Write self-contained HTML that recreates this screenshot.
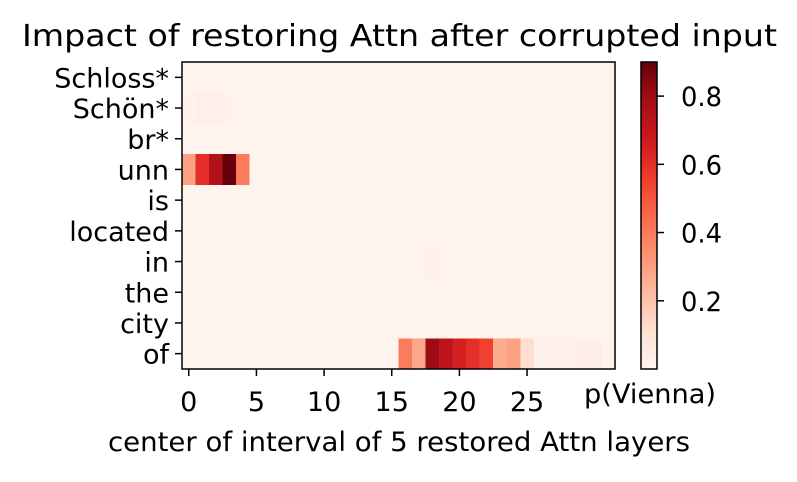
<!DOCTYPE html>
<html><head><meta charset="utf-8"><style>
body{margin:0;background:#fff;}
svg text{font-family:"DejaVu Sans","Liberation Sans",sans-serif;fill:#000;}
</style></head><body>
<svg id="c" width="797" height="477" xmlns="http://www.w3.org/2000/svg"></svg>
<script>
const rowLabels=["Schloss*","Schön*","br*","unn","is","located","in","the","city","of"];
const xTicks=[0,5,10,15,20,25];
const cbTicks=[0.2,0.4,0.6,0.8];
const nCols=32;
const bg=0.01;
const rowUnn=[0.3,0.6,0.75,0.9,0.4];
const rowSchon=[0.02,0.03,0.03,0.02];
const rowOf=[[16,0.4],[17,0.28],[18,0.8],[19,0.72],[20,0.65],[21,0.6],[22,0.55],[23,0.27],[24,0.3],[25,0.12],[26,0.02],[27,0.02],[28,0.02],[29,0.035],[30,0.035]];
const rowIn=[[18,0.025]];
const vmin=0,vmax=0.9;

const stops=["#fff5f0","#fee0d2","#fcbba1","#fc9272","#fb6a4a","#ef3b2c","#cb181d","#a50f15","#67000d"];
function hx(h){return [1,3,5].map(i=>parseInt(h.substr(i,2),16));}
function cmap(v){let t=Math.max(0,Math.min(1,(v-vmin)/(vmax-vmin)))*(stops.length-1);let i=Math.min(Math.floor(t),stops.length-2),f=t-i;const a=hx(stops[i]),b=hx(stops[i+1]);return "rgb("+a.map((x,k)=>Math.round(x+(b[k]-x)*f)).join(",")+")";}

const grid=rowLabels.map(()=>Array(nCols).fill(bg));
rowUnn.forEach((v,i)=>grid[3][i]=v);
rowSchon.forEach((v,i)=>grid[1][i]=v);
rowOf.forEach(([c,v])=>grid[9][c]=v);
rowIn.forEach(([c,v])=>grid[6][c]=v);

const L=182,T=62,W=433,H=307;
const cw=W/nCols,rh=H/rowLabels.length;
const xs=c=>L+(c+0.5)*cw, ys=r=>T+(r+0.5)*rh;
const svg=document.getElementById('c');const NS="http://www.w3.org/2000/svg";
function el(t,a,p){const e=document.createElementNS(NS,t);for(const k in a)e.setAttribute(k,a[k]);(p||svg).appendChild(e);return e;}

const tt=el('text',{x:22,y:46,'font-size':30,textLength:755,lengthAdjust:'spacingAndGlyphs'});tt.textContent="Impact of restoring Attn after corrupted input";



const g=el('g',{'shape-rendering':'crispEdges'});


grid.forEach((row,r)=>row.forEach((v,c)=>{
 const rc=el('rect',{x:L+c*cw,y:T+r*rh,width:cw+0.6,height:rh+0.6,fill:cmap(v)},g);
 
 
}));
const fr=el('rect',{x:L,y:T,width:W,height:H,fill:'none',stroke:'#000','stroke-width':1.5});



rowLabels.forEach((lab,r)=>{
 el('line',{x1:L-7,x2:L,y1:ys(r),y2:ys(r),stroke:'#000','stroke-width':1.5});
 const t=el('text',{x:L-13,y:ys(r)+10,'font-size':27,'text-anchor':'end'});t.textContent=lab;
 
 
});
xTicks.forEach(v=>{
 el('line',{x1:xs(v),x2:xs(v),y1:T+H,y2:T+H+7,stroke:'#000','stroke-width':1.5});
 const t=el('text',{x:xs(v),y:T+H+42,'font-size':27,'text-anchor':'middle'});t.textContent=v;
 
 
});
const xl=el('text',{x:108,y:451,'font-size':27,textLength:582,lengthAdjust:'spacingAndGlyphs'});xl.textContent="center of interval of 5 restored Attn layers";



// colorbar
const CL=641,CW=16;
const cbY=v=>T+H-(v-vmin)/(vmax-vmin)*H;
const cg=el('g',{});


for(let i=0;i<H;i++){el('rect',{x:CL,y:T+i,width:CW,height:1.2,fill:cmap(vmax-(i+0.5)/H*(vmax-vmin))},cg);}
el('rect',{x:CL,y:T,width:CW,height:H,fill:'none',stroke:'#000','stroke-width':1.5},cg);
cbTicks.forEach(v=>{
 el('line',{x1:CL+CW,x2:CL+CW+7,y1:cbY(v),y2:cbY(v),stroke:'#000','stroke-width':1.5},cg);
 const t=el('text',{x:CL+CW+24,y:cbY(v)+10,'font-size':27,textLength:41,lengthAdjust:'spacingAndGlyphs'},cg);t.textContent=v.toFixed(1);
 
 
});
const cl=el('text',{x:584,y:403,'font-size':27,textLength:132,lengthAdjust:'spacingAndGlyphs'});cl.textContent="p(Vienna)";


</script>
</body></html>
